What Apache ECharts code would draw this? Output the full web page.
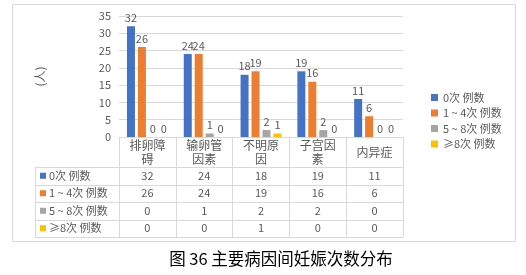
<!DOCTYPE html>
<html><head><meta charset="utf-8">
<script src="https://cdn.jsdelivr.net/npm/echarts@6/dist/echarts.min.js"></script>
<style>html,body{margin:0;padding:0;background:#fff}#c{width:526px;height:275px}</style>
</head><body><div id="c"></div>
<script>
const categories = ['排卵障碍','输卵管因素','不明原因','子宫因素','内异症'];
const seriesNames = ['0次 例数','1 ~ 4次 例数','5 ~ 8次 例数','≥8次 例数'];
const s0 = [32,24,18,19,11];
const s1 = [26,24,19,16,6];
const s2 = [0,1,2,2,0];
const s3 = [0,0,1,0,0];
const yTicks = [0,5,10,15,20,25,30,35];
const colors = ['#4472C4','#ED7D31','#A5A5A5','#FFC000'];
const seriesData = [s0,s1,s2,s3];
const FONT = '"Noto Sans CJK SC", "Noto Sans", sans-serif';
const GRAY = '#595959', LINE = '#d9d9d9';

const chart = echarts.init(document.getElementById('c'), null, {renderer:'canvas'});
const option = {
  animation:false,
  textStyle:{fontFamily:FONT},
  grid:{left:119, right:123, top:16, bottom:138},
  legend:{
    orient:'vertical', left:426, top:87, itemWidth:7, itemHeight:7, itemGap:4.5,
    icon:'rect', textStyle:{color:GRAY, fontSize:11, fontFamily:FONT},
    data:seriesNames
  },
  xAxis:{
    type:'category', data:categories,
    axisLine:{lineStyle:{color:LINE}},
    axisTick:{show:true, length:100, lineStyle:{color:LINE}},
    axisLabel:{interval:0, color:GRAY, fontSize:12, lineHeight:14, margin:15, verticalAlign:'middle',
      formatter:v => v.length>3 ? v.slice(0,3)+'\n'+v.slice(3) : v}
  },
  yAxis:{
    type:'value', min:yTicks[0], max:yTicks[yTicks.length-1], interval:5,
    name:'(人)', nameLocation:'middle', nameGap:73, nameRotate:90,
    nameTextStyle:{color:GRAY, fontSize:12},
    axisLine:{show:false}, axisTick:{show:false},
    axisLabel:{color:GRAY, fontSize:11, margin:8},
    splitLine:{lineStyle:{color:LINE}}
  },
  series: seriesNames.map((n,i)=>({
    name:n, type:'bar', data:seriesData[i], barWidth:8, barGap:'37%', barCategoryGap:'28%',
    itemStyle:{color:colors[i]},
    label:{show:true, position:'top', distance:3, color:GRAY, fontSize:11}
  }))
};
chart.setOption(option);

// table built from data arrays, positioned through the axes
const y0 = chart.convertToPixel({yAxisIndex:0}, 0);
const xs = categories.map((c,i)=>chart.convertToPixel({xAxisIndex:0}, i));
const step = xs.length>1 ? xs[1]-xs[0] : 57;
const xL = xs[0]-step/2, xR = xs[xs.length-1]+step/2;
const headerH = 30, rowH = 17.5, colLeft = 35;
const tTop = y0 + headerH;
const g = [];
g.push({type:'rect', shape:{x:12.5,y:4.5,width:503,height:237}, style:{fill:null, stroke:LINE, lineWidth:1}, silent:true});
for (let r=0;r<=seriesNames.length;r++){
  const y = Math.round(tTop + r*rowH)+0.5;
  g.push({type:'line', shape:{x1:colLeft,y1:y,x2:xR,y2:y}, style:{stroke:LINE,lineWidth:1}, silent:true});
}
g.push({type:'line', shape:{x1:colLeft+0.5,y1:tTop,x2:colLeft+0.5,y2:tTop+seriesNames.length*rowH}, style:{stroke:LINE,lineWidth:1}, silent:true});
seriesNames.forEach((n,r)=>{
  const cy = tTop + r*rowH + rowH/2;
  g.push({type:'rect', shape:{x:40,y:cy-3,width:6,height:6}, style:{fill:colors[r]}, silent:true});
  g.push({type:'text', x:49, y:cy, style:{text:n, fill:GRAY, fontSize:11, fontFamily:FONT, verticalAlign:'middle', align:'left'}, silent:true});
  seriesData[r].forEach((v,i)=>{
    g.push({type:'text', x:xs[i], y:cy, style:{text:String(v), fill:GRAY, fontSize:11, fontFamily:FONT, verticalAlign:'middle', align:'center'}, silent:true});
  });
});
g.push({type:'text', x:281, y:259, style:{text:'图 36 主要病因间妊娠次数分布', fill:'#000', fontSize:16.5, fontFamily:FONT, align:'center', verticalAlign:'middle'}, silent:true});
chart.setOption({graphic:g});
</script></body></html>
